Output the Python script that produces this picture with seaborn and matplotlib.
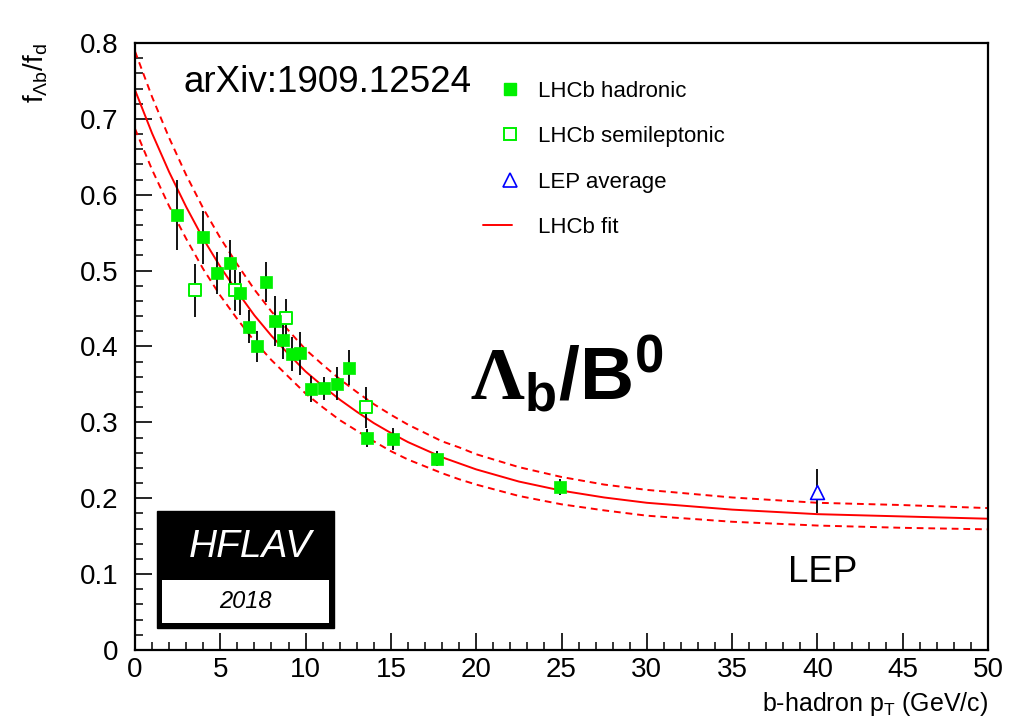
import numpy as np
import pandas as pd
import matplotlib
matplotlib.use("Agg")
import matplotlib.pyplot as plt
import seaborn as sns
from matplotlib.lines import Line2D
from matplotlib.legend_handler import HandlerLine2D
from matplotlib.patches import Rectangle
from matplotlib.ticker import MultipleLocator, FixedLocator, FixedFormatter

# ---------------- data ----------------
had_pt = [2.46, 3.99, 4.79, 5.57, 6.16, 6.71, 7.18, 7.69, 8.18, 8.66,
          9.19, 9.70, 10.33, 11.09, 11.83, 12.56, 13.60, 15.10, 17.70, 24.94]
had_val = [0.573, 0.544, 0.497, 0.510, 0.470, 0.426, 0.400, 0.485, 0.433, 0.408,
           0.390, 0.391, 0.344, 0.345, 0.351, 0.372, 0.279, 0.278, 0.252, 0.215]
had_err = [0.046, 0.035, 0.028, 0.031, 0.028, 0.022, 0.021, 0.027, 0.033, 0.025,
           0.022, 0.028, 0.017, 0.015, 0.022, 0.023, 0.012, 0.015, 0.010, 0.011]

sl_pt = [3.52, 5.87, 8.84, 13.55]
sl_val = [0.474, 0.474, 0.437, 0.320]
sl_err = [0.035, 0.027, 0.025, 0.027]

lep_pt = [40.0]
lep_val = [0.208]
lep_err_lo = [0.028]
lep_err_hi = [0.031]

fit_pt = [0, 1, 2, 3, 4, 5, 6, 7, 8, 9, 10, 11, 12, 13, 14, 15, 16, 17, 18, 19, 20,
          22.5, 25, 27.5, 30, 35, 40, 45, 50]
fit_central = [0.738, 0.681, 0.630, 0.584, 0.542, 0.505, 0.472, 0.441, 0.414, 0.390,
               0.367, 0.348, 0.330, 0.314, 0.299, 0.286, 0.274, 0.264, 0.254, 0.246,
               0.238, 0.222, 0.210, 0.201, 0.194, 0.185, 0.179, 0.176, 0.173]
fit_upper = [0.789, 0.729, 0.675, 0.626, 0.582, 0.543, 0.508, 0.475, 0.446, 0.421,
             0.396, 0.376, 0.357, 0.340, 0.324, 0.310, 0.297, 0.286, 0.275, 0.267,
             0.258, 0.241, 0.228, 0.218, 0.211, 0.201, 0.194, 0.191, 0.187]
fit_lower = [0.687, 0.633, 0.585, 0.542, 0.502, 0.467, 0.436, 0.407, 0.382, 0.360,
             0.338, 0.320, 0.303, 0.289, 0.275, 0.262, 0.251, 0.242, 0.233, 0.225,
             0.218, 0.203, 0.192, 0.184, 0.177, 0.169, 0.164, 0.161, 0.159]

xtick_vals = [0, 5, 10, 15, 20, 25, 30, 35, 40, 45, 50]
xtick_labels = ["0", "5", "10", "15", "20", "25", "30", "35", "40", "45", "50"]
ytick_vals = [0, 0.1, 0.2, 0.3, 0.4, 0.5, 0.6, 0.7, 0.8]
ytick_labels = ["0", "0.1", "0.2", "0.3", "0.4", "0.5", "0.6", "0.7", "0.8"]

legend_labels = ["LHCb hadronic", "LHCb semileptonic", "LEP average", "LHCb fit"]

# ---------------- style ----------------
sns.set_theme(style="white")
plt.rcParams["font.family"] = ["Liberation Sans", "DejaVu Sans"]
plt.rcParams["mathtext.fontset"] = "custom"
plt.rcParams["mathtext.rm"] = "Liberation Sans"
plt.rcParams["mathtext.it"] = "Liberation Sans:italic"
plt.rcParams["mathtext.bf"] = "Liberation Sans:bold"
plt.rcParams["mathtext.cal"] = "Liberation Serif:bold"
plt.rcParams["text.color"] = "black"
plt.rcParams["axes.labelcolor"] = "black"
plt.rcParams["xtick.color"] = "black"
plt.rcParams["ytick.color"] = "black"

GREEN = "#00f000"
RED = "#ff0000"
BLUE = "#0000ff"

fig = plt.figure(figsize=(10.09, 7.19), dpi=100)
ax = fig.add_axes([0.1338, 0.0960, 0.8454, 0.8442])
ax.set_facecolor("white")

fit_df = pd.DataFrame({"pt": fit_pt, "c": fit_central, "u": fit_upper, "l": fit_lower})
sns.lineplot(data=fit_df, x="pt", y="c", color=RED, lw=1.4, ax=ax, zorder=1)
for col in ["u", "l"]:
    sns.lineplot(data=fit_df, x="pt", y=col, color=RED, lw=1.4, ax=ax, zorder=1,
                 linestyle=(0, (3.5, 2.5)))

# error bars
ax.errorbar(had_pt, had_val, yerr=had_err, fmt="none", ecolor="black", elinewidth=1.3, capsize=0, zorder=2)
ax.errorbar(sl_pt, sl_val, yerr=sl_err, fmt="none", ecolor="black", elinewidth=1.3, capsize=0, zorder=2)
ax.errorbar(lep_pt, lep_val, yerr=[lep_err_lo, lep_err_hi], fmt="none", ecolor="black",
            elinewidth=1.3, capsize=0, zorder=2)

had_df = pd.DataFrame({"pt": had_pt, "v": had_val})
sl_df = pd.DataFrame({"pt": sl_pt, "v": sl_val})
lep_df = pd.DataFrame({"pt": lep_pt, "v": lep_val})
sns.scatterplot(data=sl_df, x="pt", y="v", marker="s", s=70, facecolor="white", edgecolor=GREEN,
                linewidth=1.4, ax=ax, zorder=3)
sns.scatterplot(data=had_df, x="pt", y="v", marker="s", s=70, color=GREEN, edgecolor=GREEN,
                linewidth=0.5, ax=ax, zorder=3)
sns.scatterplot(data=lep_df, x="pt", y="v", marker="^", s=100, facecolor="white", edgecolor=BLUE,
                linewidth=1.2, ax=ax, zorder=3)

ax.set_xlim(0, 50)
ax.set_ylim(0, 0.8)
ax.xaxis.set_major_locator(FixedLocator(xtick_vals))
ax.xaxis.set_major_formatter(FixedFormatter(xtick_labels))
ax.yaxis.set_major_locator(FixedLocator(ytick_vals))
ax.yaxis.set_major_formatter(FixedFormatter(ytick_labels))
ax.xaxis.set_minor_locator(MultipleLocator(1))
ax.yaxis.set_minor_locator(MultipleLocator(0.02))
ax.tick_params(axis="both", which="both", direction="in", colors="black",
               left=True, bottom=True, top=False, right=False)
ax.tick_params(axis="both", which="major", length=12, width=1.2, labelsize=20)
ax.tick_params(axis="both", which="minor", length=6, width=1.1)
ax.tick_params(axis="y", which="major", pad=12)
ax.tick_params(axis="x", which="major", pad=5)
for sp in ax.spines.values():
    sp.set_color("black")
    sp.set_linewidth(1.6)

ax.set_xlabel(r"b-hadron p$_{\mathrm{T}}$ (GeV/c)", fontsize=18, loc="right")
ax.set_ylabel(r"f$_{\Lambda\mathrm{b}}$/f$_{\mathrm{d}}$", fontsize=20, loc="top")
ax.yaxis.set_label_coords(-0.100, 1.0)
ax.xaxis.set_label_coords(1.0, -0.066)

# texts
ax.text(0.0574, 0.9198, "arXiv:1909.12524", transform=ax.transAxes, fontsize=26.5,
        ha="left", va="baseline", color="black")
ax.text(0.393, 0.412, r"$\mathcal{\Lambda}_\mathbf{b}\mathbf{/B^0}$", transform=ax.transAxes,
        fontsize=54, ha="left", va="baseline", color="black")
ax.text(0.766, 0.1127, "LEP", transform=ax.transAxes, fontsize=26.5, ha="left", va="baseline",
        color="black")

# HFLAV logo
ax.add_patch(Rectangle((0.0261, 0.0367), 0.2072, 0.1928, transform=ax.transAxes,
                       facecolor="black", edgecolor="black", zorder=5))
ax.add_patch(Rectangle((0.0313, 0.0450), 0.1961, 0.0703, transform=ax.transAxes,
                       facecolor="white", edgecolor="none", zorder=6))
ax.text(0.1348, 0.1699, "HFLAV", transform=ax.transAxes, fontsize=28, style="italic",
        color="white", ha="center", va="center", zorder=7)
ax.text(0.1290, 0.0796, "2018", transform=ax.transAxes, fontsize=17, style="italic",
        color="black", ha="center", va="center", zorder=7)


class RightMarker(HandlerLine2D):
    def get_xdata(self, legend, xdescent, ydescent, width, height, fontsize):
        c = -xdescent + width * 0.93
        xdata = np.array([c - 1.0, c + 1.0])
        return xdata, np.array([c])


handles = [
    Line2D([], [], ls="none", marker="s", markersize=8.5, markerfacecolor=GREEN, markeredgecolor=GREEN),
    Line2D([], [], ls="none", marker="s", markersize=8.5, markerfacecolor="white",
           markeredgecolor=GREEN, markeredgewidth=1.4),
    Line2D([], [], ls="none", marker="^", markersize=10, markerfacecolor="white",
           markeredgecolor=BLUE, markeredgewidth=1.2),
    Line2D([], [], color=RED, lw=1.4),
]
hmap = {h: RightMarker(numpoints=1) for h in handles[:3]}
leg = ax.legend(handles, legend_labels, loc="upper left", bbox_to_anchor=(0.408, 0.938),
                frameon=False, fontsize=16, handlelength=1.3, handletextpad=1.17,
                labelspacing=1.1, borderpad=0, borderaxespad=0, handler_map=hmap)
for t in leg.get_texts():
    t.set_color("black")

fig.savefig("out.png", dpi=100, facecolor="white")
